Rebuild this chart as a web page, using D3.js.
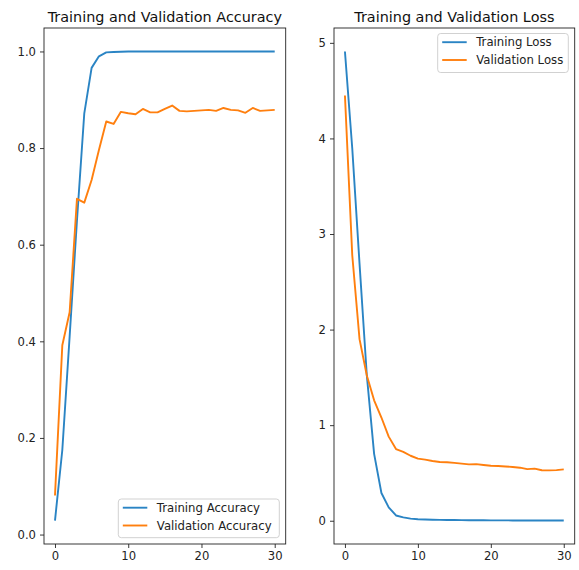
<!DOCTYPE html>
<html>
<head>
<meta charset="utf-8">
<script src="https://cdn.jsdelivr.net/npm/d3@7"></script>
<style>
  html, body { margin: 0; padding: 0; background: #fff; }
  svg { display: block; font-family: "DejaVu Sans", sans-serif; }
</style>
</head>
<body>
<svg id="chart" width="579" height="570"></svg>
<script>
// ---- data ----
const epochs = [0,1,2,3,4,5,6,7,8,9,10,11,12,13,14,15,16,17,18,19,20,21,22,23,24,25,26,27,28,29,30];
const trainAcc = [0.029,0.175,0.41,0.65,0.872,0.966,0.990,0.998,0.999,0.9995,1.0,1.0,1.0,1.0,1.0,1.0,1.0,1.0,1.0,1.0,1.0,1.0,1.0,1.0,1.0,1.0,1.0,1.0,1.0,1.0,1.0];
const valAcc = [0.081,0.392,0.46,0.695,0.687,0.734,0.796,0.855,0.850,0.875,0.872,0.870,0.881,0.874,0.874,0.881,0.888,0.877,0.876,0.877,0.878,0.879,0.877,0.883,0.879,0.878,0.873,0.883,0.877,0.878,0.879];
const trainLoss = [4.91,3.90,2.69,1.52,0.70,0.29,0.14,0.055,0.035,0.022,0.016,0.013,0.011,0.009,0.008,0.007,0.006,0.0055,0.005,0.0045,0.004,0.0037,0.0035,0.0032,0.003,0.0028,0.0026,0.0025,0.0023,0.0022,0.002];
const valLoss = [4.45,2.78,1.90,1.52,1.26,1.08,0.88,0.75,0.72,0.68,0.65,0.64,0.625,0.615,0.612,0.605,0.598,0.59,0.592,0.583,0.575,0.572,0.568,0.562,0.555,0.54,0.545,0.528,0.527,0.53,0.537];
const xTicks = [0,10,20,30];
const accTicks = [0.0,0.2,0.4,0.6,0.8,1.0];
const lossTicks = [0,1,2,3,4,5];

const BLUE = "#2a84c4", ORANGE = "#ff7f0e";
const svg = d3.select("#chart");

function pad(ext) { const r = ext[1]-ext[0]; return [ext[0]-0.05*r, ext[1]+0.05*r]; }

function panel(opts) {
  const { left, right, top, bottom, title, series, yTicks, yFmt, legend } = opts;
  const g = svg.append("g");
  const x = d3.scaleLinear().domain(pad(d3.extent(epochs))).range([left, right]);
  const allY = series.flatMap(s => s.values);
  const y = d3.scaleLinear().domain(pad(d3.extent(allY))).range([bottom, top]);

  const line = d3.line().x((d, i) => x(epochs[i])).y(d => y(d));
  series.forEach(s => {
    g.append("path").datum(s.values)
      .attr("fill", "none").attr("stroke", s.color)
      .attr("stroke-width", 1.9).attr("stroke-linejoin", "round").attr("stroke-linecap", "butt")
      .attr("d", line);
  });

  // axes
  const xa = g.append("g").attr("transform", `translate(0,${bottom})`)
    .call(d3.axisBottom(x).tickValues(xTicks).tickSize(4).tickPadding(4).tickFormat(d3.format("d")));
  const ya = g.append("g").attr("transform", `translate(${left},0)`)
    .call(d3.axisLeft(y).tickValues(yTicks).tickSize(4).tickPadding(4).tickFormat(yFmt));
  [xa, ya].forEach(a => {
    a.select(".domain").remove();
    a.selectAll(".tick line").attr("stroke", "#222").attr("stroke-width", 0.9);
    a.selectAll(".tick text").attr("fill", "#222").style("font-size", "11.6px")
      .style("font-family", "'DejaVu Sans', sans-serif");
  });

  // spines
  g.append("rect").attr("x", left).attr("y", top)
    .attr("width", right-left).attr("height", bottom-top)
    .attr("fill", "none").attr("stroke", "#222").attr("stroke-width", 0.9);

  // title
  g.append("text").attr("x", (left+right)/2).attr("y", 21.5)
    .attr("text-anchor", "middle").attr("fill", "#111")
    .style("font-size", "14.4px").text(title);

  // legend
  const lg = g.append("g");
  lg.append("rect").attr("x", legend.x).attr("y", legend.y)
    .attr("width", legend.w).attr("height", legend.h)
    .attr("rx", 3).attr("fill", "#fff").attr("fill-opacity", 0.8)
    .attr("stroke", "#ccc").attr("stroke-width", 0.9);
  series.forEach((s, i) => {
    const cy = legend.y + 8.7 + i*17.8;
    lg.append("line").attr("x1", legend.x+4.5).attr("x2", legend.x+29)
      .attr("y1", cy).attr("y2", cy).attr("stroke", s.color).attr("stroke-width", 1.9);
    lg.append("text").attr("x", legend.x+38.5).attr("y", cy+4.2)
      .attr("fill", "#222").style("font-size", "11.7px").text(s.name);
  });
}

panel({
  left: 44, right: 285.7, top: 28, bottom: 544,
  title: "Training and Validation Accuracy",
  series: [{ name: "Training Accuracy", values: trainAcc, color: BLUE },
           { name: "Validation Accuracy", values: valAcc, color: ORANGE }],
  yTicks: accTicks, yFmt: d3.format(".1f"),
  legend: { x: 118.3, y: 499, w: 161, h: 38.7 }
});

panel({
  left: 334, right: 574.7, top: 28, bottom: 544,
  title: "Training and Validation Loss",
  series: [{ name: "Training Loss", values: trainLoss, color: BLUE },
           { name: "Validation Loss", values: valLoss, color: ORANGE }],
  yTicks: lossTicks, yFmt: d3.format("d"),
  legend: { x: 437.7, y: 33.5, w: 130.6, h: 39 }
});
</script>
</body>
</html>
